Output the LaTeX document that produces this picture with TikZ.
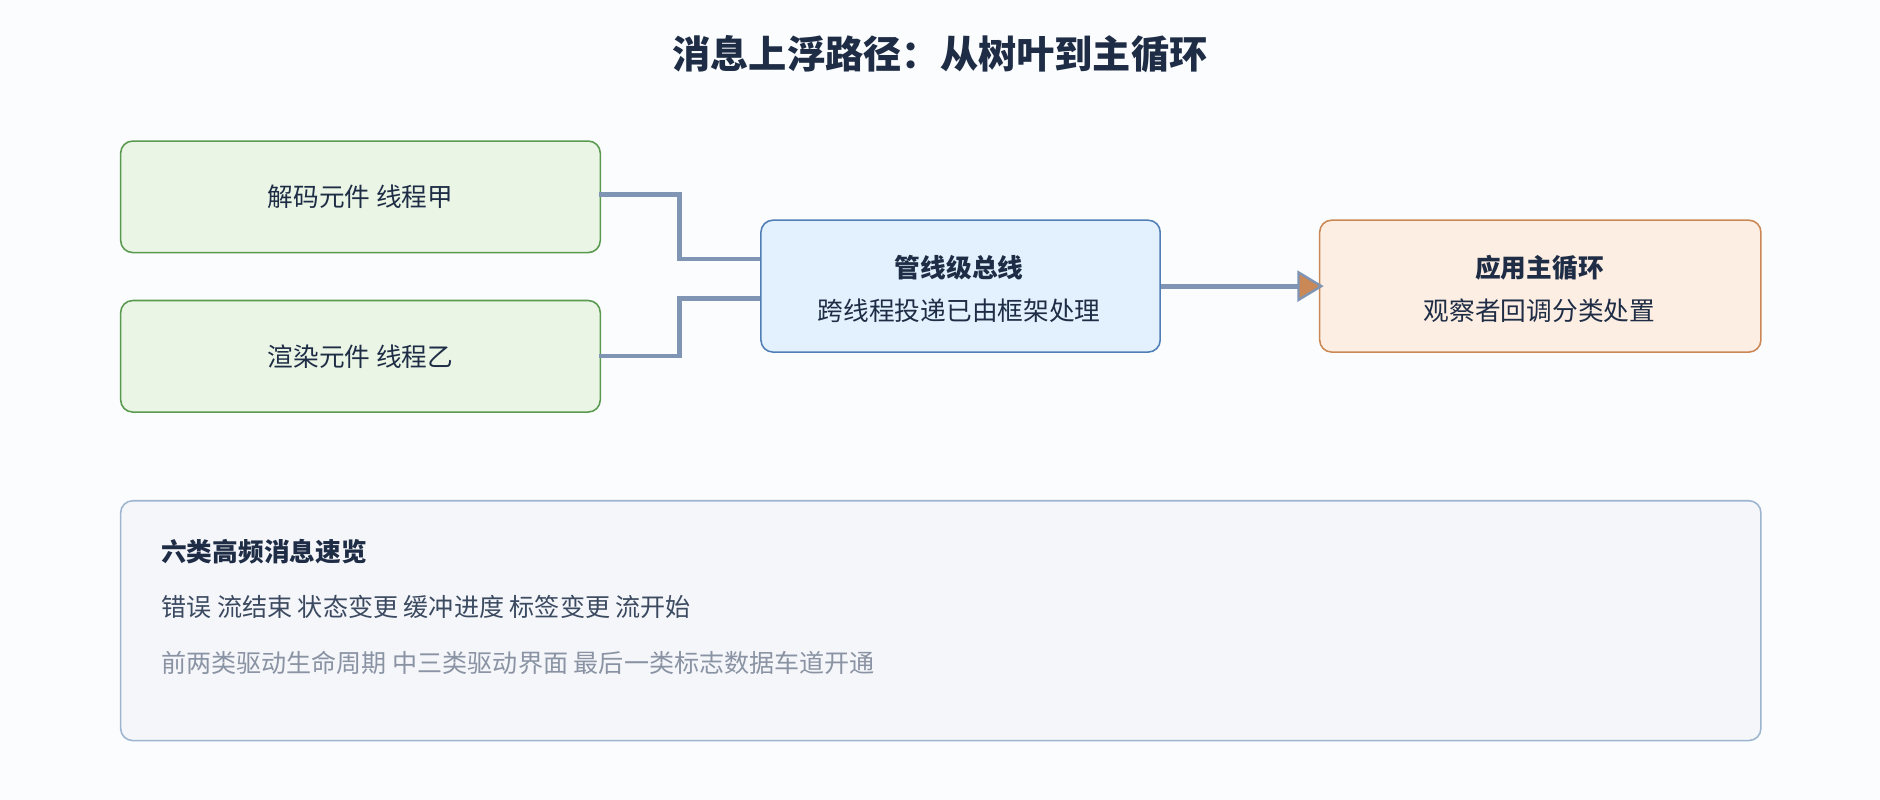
\documentclass[tikz,border=0pt]{standalone}
\usepackage{fontspec}
\setmainfont{Noto Sans CJK SC}
\usetikzlibrary{arrows.meta}
\definecolor{bg}{HTML}{FBFCFE}
\definecolor{ink}{HTML}{1E2D45}
\definecolor{gfill}{HTML}{EAF5E6}\definecolor{gline}{HTML}{5A9A4F}
\definecolor{bfill}{HTML}{E3F0FD}\definecolor{bline}{HTML}{4F7FB5}
\definecolor{ofill}{HTML}{FDEEE3}\definecolor{oline}{HTML}{C98855}
\definecolor{pfill}{HTML}{F5F6FA}\definecolor{pline}{HTML}{9DB5CF}
\definecolor{conn}{HTML}{7F95B3}
\definecolor{mid}{HTML}{3B4A60}\definecolor{soft}{HTML}{8A93A3}
\begin{document}
\begin{tikzpicture}[x=1bp,y=-1bp,
  box/.style={draw,line width=1.3bp,rounded corners=10bp,anchor=north west,inner sep=0},
  conn/.style={draw=conn,line width=4bp},
  txt/.style={font=\fontsize{21.5}{26}\selectfont,text=ink},
  btxt/.style={font=\fontsize{21.5}{26}\selectfont\bfseries,text=ink}]
\fill[bg] (0,0) rectangle (1568,667);
\useasboundingbox (0,0) rectangle (1568,667);
\node[font=\fontsize{32}{38}\selectfont\bfseries,text=ink] (title) at (784,45) {消息上浮路径：从树叶到主循环};
\node[box,draw=gline,fill=gfill,minimum width=400bp,minimum height=93bp] (a) at (100,117) {};
\node[txt] (at) at (a.center) {解码元件 线程甲};
\node[box,draw=gline,fill=gfill,minimum width=400bp,minimum height=93bp] (b) at (100,250) {};
\node[txt] (bt) at (b.center) {渲染元件 线程乙};
\node[box,draw=bline,fill=bfill,minimum width=333bp,minimum height=110bp] (c) at (634,183) {};
\node[btxt] (c1) at (800,223) {管线级总线};
\node[txt] (c2) at (800,259) {跨线程投递已由框架处理};
\node[box,draw=oline,fill=ofill,minimum width=368bp,minimum height=110bp] (d) at (1100,183) {};
\node[btxt] (d1) at (1284,223) {应用主循环};
\node[txt] (d2) at (1284,259) {观察者回调分类处置};
\coordinate (aout) at (500,162);
\coordinate (bout) at (500,297);
\coordinate (cin1) at (634,216);
\coordinate (cin2) at (634,249);
\draw[conn] (aout) -| (567,216) -- (cin1);
\draw[conn] (bout) -| (567,249) -- (cin2);
\draw[conn,-{Triangle[length=22bp,width=26bp,fill=oline,line width=2bp]}] (c.east) -- ([xshift=4bp]d.west);
\node[box,draw=pline,fill=pfill,minimum width=1368bp,minimum height=200bp] (p) at (100,417) {};
\node[btxt,anchor=west] (p1) at (131,460) {六类高频消息速览};
\node[font=\fontsize{21}{25}\selectfont,text=mid,anchor=west] (p2) at (131,506) {错误 流结束 状态变更 缓冲进度 标签变更 流开始};
\node[font=\fontsize{21}{25}\selectfont,text=soft,anchor=west] (p3) at (131,553) {前两类驱动生命周期 中三类驱动界面 最后一类标志数据车道开通};
\end{tikzpicture}
\end{document}
